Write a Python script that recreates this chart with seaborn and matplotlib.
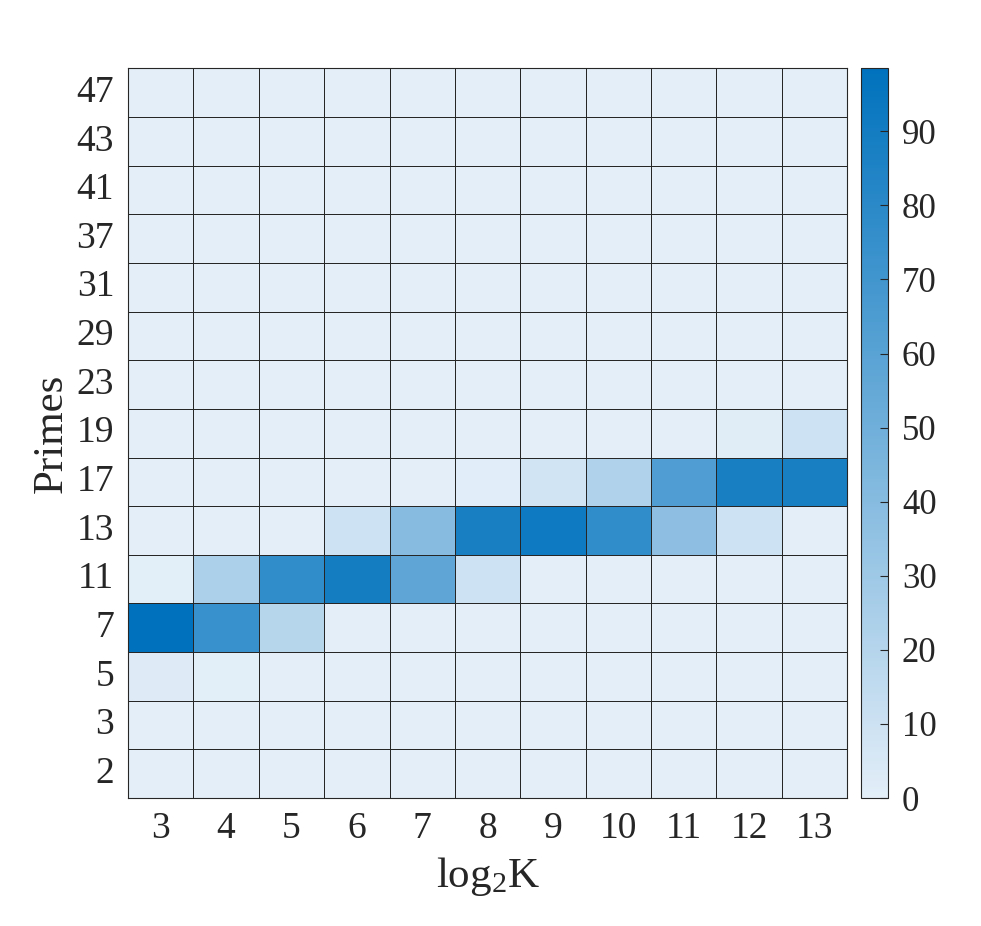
import numpy as np
import pandas as pd
import matplotlib
matplotlib.use("Agg")
import matplotlib.pyplot as plt
import seaborn as sns
from matplotlib.colors import LinearSegmentedColormap

# log2(K) по горизонтали, простые числа по вертикали (сверху вниз)
log2k = [3, 4, 5, 6, 7, 8, 9, 10, 11, 12, 13]
primes = [47, 43, 41, 37, 31, 29, 23, 19, 17, 13, 11, 7, 5, 3, 2]

# значения (%) для каждой строки
p47 = [0, 0, 0, 0, 0, 0, 0, 0, 0, 0, 0]
p43 = [0, 0, 0, 0, 0, 0, 0, 0, 0, 0, 0]
p41 = [0, 0, 0, 0, 0, 0, 0, 0, 0, 0, 0]
p37 = [0, 0, 0, 0, 0, 0, 0, 0, 0, 0, 0]
p31 = [0, 0, 0, 0, 0, 0, 0, 0, 0, 0, 0]
p29 = [0, 0, 0, 0, 0, 0, 0, 0, 0, 0, 0]
p23 = [0, 0, 0, 0, 0, 0, 0, 0, 0, 0, 0]
p19 = [0, 0, 0, 0, 0, 0, 0, 0, 0, 1.5, 10]
p17 = [0, 0, 0, 0, 0, 1, 8, 22, 64, 88, 88]
p13 = [0, 0, 0, 10, 40, 88, 92, 77, 37, 10, 0]
p11 = [0.5, 24, 77, 90, 57, 10, 0, 0, 0, 0, 0]
p7 = [98.5, 74, 19.5, 0, 0, 0, 0, 0, 0, 0, 0]
p5 = [2.5, 0.5, 0, 0, 0, 0, 0, 0, 0, 0, 0]
p3 = [0, 0, 0, 0, 0, 0, 0, 0, 0, 0, 0]
p2 = [0, 0, 0, 0, 0, 0, 0, 0, 0, 0, 0]

rows = [p47, p43, p41, p37, p31, p29, p23, p19, p17, p13, p11, p7, p5, p3, p2]
df = pd.DataFrame(rows, index=primes, columns=log2k)

plt.rcParams['font.family'] = ['Liberation Serif', 'DejaVu Serif']
plt.rcParams['mathtext.fontset'] = 'custom'
plt.rcParams['mathtext.rm'] = 'Liberation Serif'
plt.rcParams['mathtext.it'] = 'Liberation Serif:italic'

cmap = LinearSegmentedColormap.from_list('mblue', ['#E3EEF8', '#0072BD'])

fig = plt.figure(figsize=(9.81, 9.26), dpi=100)
ax = fig.add_axes([0.1305, 0.1382, 0.733, 0.788])
cax = fig.add_axes([0.8777, 0.1382, 0.0275, 0.788])

sns.heatmap(df, ax=ax, cbar_ax=cax, cmap=cmap, vmin=0,
            linewidths=0.6, linecolor='#262626')

# рамка вокруг сетки
for sp in ax.spines.values():
    sp.set_visible(True)
    sp.set_color('#262626')
    sp.set_linewidth(0.8)

ax.tick_params(length=0, labelsize=27, pad=10, colors='#262626')
plt.setp(ax.get_yticklabels(), rotation=0)
plt.setp(ax.get_xticklabels(), rotation=0)
ax.set_xlabel(r'log$_\mathrm{2}$K', fontsize=31, color='#262626', labelpad=6)
ax.set_ylabel('Primes', fontsize=31, color='#262626', labelpad=4)

cax.set_yticks(range(0, 91, 10))
cax.tick_params(direction='in', length=6, labelsize=25, pad=10, colors='#262626')
cbar = ax.collections[0].colorbar
cbar.outline.set_visible(True)
cbar.outline.set_edgecolor('#262626')
cbar.outline.set_linewidth(0.8)

fig.savefig('out.png', dpi=100)
